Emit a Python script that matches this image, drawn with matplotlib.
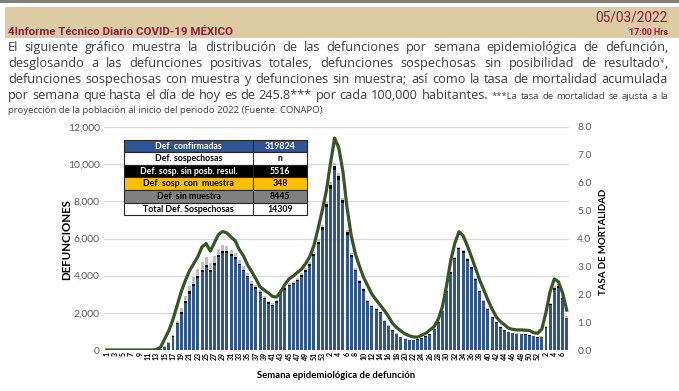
import matplotlib
matplotlib.use("Agg")
import matplotlib.pyplot as plt
from matplotlib.patches import Rectangle
from matplotlib import font_manager as fm
import numpy as np

W, H = 679, 391

# Defunciones confirmadas por semana (2020: 53 semanas, 2021: 52, 2022: 7)
conf_2020 = [0, 0, 0, 0, 0, 0, 0, 0, 0, 0, 0, 0,
             20, 80, 170, 350, 710, 1380, 1960, 2550, 3040, 3450, 3880, 4210,
             4480, 4210, 4590, 5010, 5230, 5210, 5050, 4880, 4560, 4230, 3910,
             3480, 3300, 3070, 2730, 2490, 2380, 2550, 3080, 3240, 3440, 3540,
             3690, 3950, 4200, 4540, 5070, 5690, 6460]
conf_2021 = [7670, 8690, 9670, 9140, 7890, 6200, 5000, 4230, 3620, 3190,
             2580, 2320, 2150, 1980, 1540, 1285, 1025, 860, 675, 590,
             520, 520, 560, 610, 720, 820, 1110, 1470, 2080, 3130,
             4095, 4880, 5410, 5230, 4800, 4360, 3745, 3140, 2610, 2170,
             1730, 1470, 1205, 1025, 945, 890, 860, 840, 820, 770, 730, 670]
conf_2022 = [700, 1210, 2400, 3250, 3350, 2750, 1700]

# Def. sosp. sin posibilidad de resultado
sinres_2020 = [0, 0, 0, 0, 0, 0, 0, 0, 0, 0, 0, 0, 0, 0,
               10, 20, 40, 70, 90, 100, 110, 120, 120, 120, 120, 110, 110,
               120, 120, 110, 100, 100, 90, 90, 80, 80, 80, 70, 70, 70, 60,
               70, 70, 80, 80, 80, 90, 90, 100, 110, 120, 140, 160]
sinres_2021 = [180, 200, 210, 200, 170, 140, 110, 90, 80, 70,
               60, 50, 50, 40, 40, 30, 30, 20, 20, 20,
               20, 20, 20, 20, 20, 20, 30, 30, 40, 60,
               80, 90, 100, 100, 90, 80, 70, 60, 50, 40,
               40, 30, 30, 30, 20, 20, 20, 20, 20, 20, 20, 20]
sinres_2022 = [20, 40, 60, 80, 80, 60, 40]

# Def. sosp. con muestra
conmu_2020 = [0, 0, 0, 0, 0, 0, 0, 0, 0, 0, 0, 0, 0, 0, 0, 0, 0, 0,
              0, 0, 0, 0, 0, 0, 0, 0, 0, 0, 0, 0, 0, 0, 0, 0, 0, 0,
              0, 0, 0, 0, 0, 0, 0, 0, 0, 0, 0, 0, 0, 0, 0, 0, 0]
conmu_2021 = [0, 0, 0, 0, 0, 0, 0, 0, 0, 0, 0, 0, 0, 0, 0, 0, 0, 0,
              0, 0, 0, 0, 0, 0, 0, 0, 0, 0, 0, 0, 0, 0, 0, 0, 0, 0,
              0, 0, 0, 0, 0, 0, 0, 0, 0, 0, 0, 0, 0, 10, 10, 10]
conmu_2022 = [10, 20, 30, 60, 80, 90, 80]

# Def. sin muestra
sinmu_2020 = [0, 0, 0, 0, 0, 0, 0, 0, 0, 0, 0, 0, 0, 0,
              20, 40, 80, 120, 200, 260, 320, 360, 380, 400, 380, 360, 340,
              320, 300, 280, 250, 220, 200, 180, 160, 140, 120, 110, 100, 90,
              80, 80, 80, 80, 80, 80, 90, 90, 100, 100, 110, 120, 130]
sinmu_2021 = [150, 160, 170, 160, 140, 110, 90, 80, 70, 60,
              50, 50, 40, 40, 30, 30, 20, 20, 20, 20,
              20, 20, 20, 20, 20, 20, 20, 20, 30, 40,
              40, 50, 50, 50, 40, 40, 40, 30, 30, 30,
              20, 20, 20, 20, 20, 20, 20, 20, 20, 20, 20, 20]
sinmu_2022 = [20, 30, 30, 40, 40, 40, 30]

# Tasa de mortalidad (eje derecho)
tasa_2020 = [0, 0, 0, 0, 0, 0, 0, 0, 0, 0, 0, 0,
             0.02, 0.1, 0.4, 0.7, 1.1, 1.6, 2.1, 2.5, 2.85, 3.1, 3.35, 3.7,
             3.82, 3.55, 3.85, 4.15, 4.25, 4.2, 4.05, 3.92, 3.6, 3.38, 3.05,
             2.81, 2.55, 2.27, 2.15, 2.05, 1.92, 1.9, 2.1, 2.35, 2.55, 2.65,
             2.78, 2.9, 3.1, 3.35, 3.75, 4.35, 5.0]
tasa_2021 = [5.7, 6.7, 7.6, 7.25, 6.4, 5.1, 4.1, 3.45, 3.0, 2.6,
             2.3, 2.0, 1.8, 1.61, 1.42, 1.2, 0.95, 0.8, 0.68, 0.58,
             0.51, 0.47, 0.46, 0.53, 0.6, 0.72, 0.84, 1.1, 1.55, 2.3,
             3.2, 3.83, 4.24, 4.1, 3.75, 3.35, 2.93, 2.51, 2.15, 1.79,
             1.47, 1.19, 1.02, 0.9, 0.78, 0.74, 0.72, 0.72, 0.71, 0.7, 0.62, 0.6]
tasa_2022 = [0.75, 1.35, 2.1, 2.55, 2.45, 2.05, 1.43]

semanas = list(range(1, 54)) + list(range(1, 53)) + list(range(1, 8))

tabla_etiquetas = ["Def. confirmadas", "Def. sospechosas", "Def. sosp. sin posb. resul.",
                   "Def. sosp. con  muestra", "Def. sin muestra", "Total Def. Sospechosas"]
tabla_valores = ["319824", "n", "5516", "348", "8445", "14309"]

conf = np.array(conf_2020 + conf_2021 + conf_2022)
sinres = np.array(sinres_2020 + sinres_2021 + sinres_2022)
conmu = np.array(conmu_2020 + conmu_2021 + conmu_2022)
sinmu = np.array(sinmu_2020 + sinmu_2021 + sinmu_2022)
tasa = np.array(tasa_2020 + tasa_2021 + tasa_2022)
x = np.arange(len(conf))

AZUL = "#2F5597"
VERDE = "#375623"
GUINDA = "#8E1F3A"
TEXTO = "#3F3F3F"
EJES = "#595959"

fuentes = {f.name for f in fm.fontManager.ttflist}
f_titulo = "Liberation Sans Narrow" if "Liberation Sans Narrow" in fuentes else "Roboto"

fig = plt.figure(figsize=(W / 100, H / 100), dpi=100)

# ---- grafica
ax = fig.add_axes([104 / W, 1 - 350 / H, (569 - 104) / W, (350 - 127) / H])
ax.bar(x, conf, width=0.72, color=AZUL, zorder=2)
ax.bar(x, sinres, bottom=conf, width=0.72, color="black", zorder=2)
ax.bar(x, conmu, bottom=conf + sinres, width=0.72, color="#FFC000", zorder=2)
ax.bar(x, sinmu, bottom=conf + sinres + conmu, width=0.72, color="#BFBFBF", zorder=2)
ax.set_xlim(-0.65, len(conf) - 0.45)
ax.set_ylim(0, 12000)
ax.set_yticks(range(0, 12001, 2000))
ax.set_yticklabels([f"{v:,}" for v in range(0, 12001, 2000)], fontsize=7.5,
                   color=EJES, family="Lato")
ax.set_xticks(x[::2])
ax.set_xticklabels([str(s) for s in semanas[::2]], rotation=90, fontsize=5,
                   fontweight="bold", family="Lato")
ax.tick_params(axis="both", length=0)
ax.tick_params(axis="y", pad=3)
ax.tick_params(axis="x", pad=1.5)
ax.grid(axis="y", color="#D9D9D9", lw=0.9)
ax.set_axisbelow(True)
for s in ax.spines.values():
    s.set_visible(False)

ax2 = ax.twinx()
ax2.plot(x, tasa, color=VERDE, lw=2.3, solid_joinstyle="round", zorder=3)
ax2.set_ylim(0, 8)
ax2.set_yticks(range(0, 9))
ax2.set_yticklabels([f"{v:.1f}" for v in range(0, 9)], fontsize=7.5,
                    color=EJES, family="Lato")
ax2.tick_params(axis="y", length=0, pad=6)
for s in ax2.spines.values():
    s.set_visible(False)

# ---- capa en pixeles para encabezado, textos y tabla
ov = fig.add_axes([0, 0, 1, 1])
ov.set_xlim(0, W)
ov.set_ylim(H, 0)
ov.axis("off")
ov.patch.set_alpha(0)

ov.add_patch(Rectangle((0, 0), W, 2.5, color="#7F7F7F", lw=0))
ov.add_patch(Rectangle((5, 6.5), W - 5, 31.5, color="#DDCBA4", lw=0))

rend = fig.canvas.get_renderer()


def ajustar(t, ancho):
    w = t.get_window_extent(rend).width
    t.set_fontsize(t.get_fontsize() * ancho / w)


t = ov.text(8, 35, "4Informe Técnico Diario COVID-19 MÉXICO", fontsize=11,
            fontweight="bold", color=GUINDA, family=f_titulo, va="baseline")
ajustar(t, 224)
t = ov.text(668, 21.5, "05/03/2022", fontsize=10, color=GUINDA, family=f_titulo,
            ha="right", va="baseline")
ajustar(t, 72)
t = ov.text(668, 35, "17:00 Hrs", fontsize=7, color=GUINDA, family=f_titulo,
            fontweight="bold", ha="right", va="baseline")
ajustar(t, 39)


def justificar(palabras, y, x0=8, x1=668, size=9.2):
    # palabras: lista de listas de segmentos (texto, tamaño, desplazamiento)
    grupos = []
    for p in palabras:
        objs = []
        for txt, sz, dy in p:
            o = ov.text(0, y - dy, txt, fontsize=sz or size, color=TEXTO,
                        family="Open Sans", va="baseline")
            objs.append(o)
        anchos = [o.get_window_extent(rend).width for o in objs]
        grupos.append((objs, anchos))
    total = sum(sum(a) for _, a in grupos)
    hueco = (x1 - x0 - total) / (len(grupos) - 1)
    xc = x0
    for objs, anchos in grupos:
        for o, a in zip(objs, anchos):
            o.set_x(xc)
            xc += a
        xc += hueco


def simples(texto, sz=None):
    return [[(w, sz, 0)] for w in texto.split()]


justificar(simples("El siguiente gráfico muestra la distribución de las defunciones "
                   "por semana epidemiológica de defunción,"), 51)
justificar(simples("desglosando a las defunciones positivas totales, defunciones "
                   "sospechosas sin posibilidad de")
           + [[("resultado", None, 0), ("¥", 5.5, 4), (",", None, 0)]], 67)
justificar(simples("defunciones sospechosas con muestra y defunciones sin muestra; "
                   "así como la tasa de mortalidad acumulada"), 83)
justificar(simples("por semana que hasta el día de hoy es de 245.8*** por cada "
                   "100,000 habitantes.")
           + simples("***La tasa de mortalidad se ajusta a la", 6.8), 99)
ov.text(8, 113, "proyección de la población al inicio del periodo 2022 (Fuente: CONAPO)",
        fontsize=6.8, color=TEXTO, family="Open Sans", va="baseline")

# ---- etiquetas de ejes
ov.text(67, 240, "DEFUNCIONES", rotation=90, fontsize=8.3, fontweight="bold",
        family="Lato", ha="center", va="center")
ov.text(604, 242, "TASA DE MORTALIDAD", rotation=90, fontsize=6.9,
        fontweight="bold", family="Lato", ha="center", va="center")
ov.text(336, 375, "Semana epidemiológica de defunción", fontsize=6.8,
        fontweight="bold", family="Lato", ha="center", va="center")

# ---- tabla
fondos = [AZUL, "white", "black", "#FFC000", "#808080", "white"]
letras = ["white", "black", "white", "black", "black", "black"]
x0, xm, x1 = 124, 253, 307
y0, alto = 139.5, 12.6
for k, (et, va_, bg, fc) in enumerate(zip(tabla_etiquetas, tabla_valores, fondos, letras)):
    yy = y0 + k * alto
    ov.add_patch(Rectangle((x0, yy), x1 - x0, alto, facecolor=bg,
                           edgecolor="#262626", lw=0.8, zorder=5))
    ov.plot([xm, xm], [yy, yy + alto], color="#262626", lw=0.8, zorder=6)
    ov.text((x0 + xm) / 2, yy + alto / 2 + 0.3, et, fontsize=6.3, fontweight="bold",
            color=fc, family="Lato", ha="center", va="center", zorder=7)
    ov.text((xm + x1) / 2, yy + alto / 2 + 0.3, va_, fontsize=6.3, fontweight="bold",
            color=fc, family="Lato", ha="center", va="center", zorder=7)

fig.savefig("out.png", dpi=100)
